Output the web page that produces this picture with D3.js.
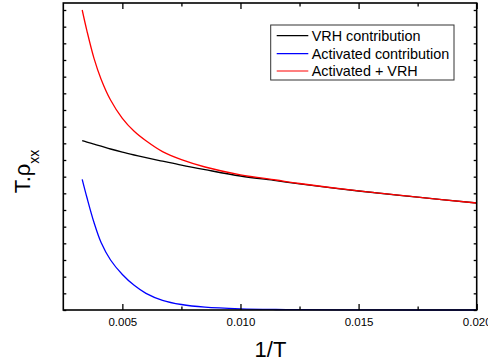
<!DOCTYPE html>
<html>
<head>
<meta charset="utf-8">
<script src="https://cdn.jsdelivr.net/npm/d3@7"></script>
<style>
  html, body { margin: 0; padding: 0; background: #fff; }
  svg { display: block; font-family: "Liberation Sans", Arial, sans-serif; }
</style>
</head>
<body>
<svg id="chart" width="488" height="364"></svg>
<script>
// ---- data ----
const invT = [0.0033, 0.0035, 0.0038, 0.0041, 0.0045, 0.005, 0.0055, 0.006, 0.0067, 0.0075, 0.0085, 0.010, 0.0115, 0.0125, 0.015, 0.0175, 0.020];
const vrh = [10.16, 10.07, 9.95, 9.83, 9.66, 9.47, 9.30, 9.14, 8.93, 8.69, 8.42, 8.04, 7.76, 7.57, 7.14, 6.77, 6.42];
const activated = [7.84, 6.75, 5.25, 4.05, 3.0, 2.13, 1.48, 1.0, 0.58, 0.33, 0.17, 0.07, 0.03, 0.02, 0.005, 0.001, 0];
const total = [18.0, 16.75, 15.1, 13.85, 12.6, 11.5, 10.72, 10.15, 9.5, 9.02, 8.58, 8.11, 7.80, 7.59, 7.145, 6.772, 6.42];
const xMajorTicks = [0.005, 0.010, 0.015, 0.020];
const xMinorTicks = [0.0075, 0.0125, 0.0175];
const xTickLabels = ["0.005", "0.010", "0.015", "0.020"];
const yTicks = d3.range(0, 19, 1);
const seriesNames = ["VRH contribution", "Activated contribution", "Activated + VRH"];
const seriesColors = ["#000000", "#0000ff", "#ff0000"];

// ---- layout ----
const L = 63.3, R = 476.7, T = 3, B = 310;
const svg = d3.select("#chart");
const x = d3.scaleLinear().domain([0.0025, 0.020]).range([L, R]);
const y = d3.scaleLinear().domain([0, 18.42]).range([B, T]);

// curves
const series = [vrh, activated, total];
const line = d3.line().curve(d3.curveCatmullRom.alpha(0.5));
const plot = svg.append("g");
series.forEach((vals, i) => {
  plot.append("path")
    .attr("d", line(invT.map((d, j) => [x(d), y(vals[j])])))
    .attr("fill", "none")
    .attr("stroke", seriesColors[i])
    .attr("stroke-width", 1.3);
});

// axes (inward ticks)
function styleAxis(g) {
  g.select(".domain").remove();
  g.selectAll(".tick line").attr("stroke", "#000").attr("stroke-width", 1.3);
}
svg.append("g").attr("transform", `translate(0,${B})`)
  .call(d3.axisBottom(x).tickValues(xMajorTicks).tickSizeInner(-6).tickSizeOuter(0).tickPadding(8)
    .tickFormat((d, i) => xTickLabels[i]))
  .call(styleAxis)
  .call(g => g.selectAll("text").attr("font-size", "11.5px").attr("fill", "#000")
    .attr("font-family", "Liberation Sans, Arial, sans-serif"));
svg.append("g").attr("transform", `translate(0,${B})`)
  .call(d3.axisBottom(x).tickValues(xMinorTicks).tickSizeInner(-3.5).tickSizeOuter(0).tickFormat(""))
  .call(styleAxis);
svg.append("g").attr("transform", `translate(0,${T})`)
  .call(d3.axisTop(x).tickValues(xMajorTicks).tickSizeInner(-6).tickSizeOuter(0).tickFormat(""))
  .call(styleAxis);
svg.append("g").attr("transform", `translate(0,${T})`)
  .call(d3.axisTop(x).tickValues(xMinorTicks).tickSizeInner(-3.5).tickSizeOuter(0).tickFormat(""))
  .call(styleAxis);
svg.append("g").attr("transform", `translate(${L},0)`)
  .call(d3.axisLeft(y).tickValues(yTicks).tickSizeInner(-3).tickSizeOuter(0).tickFormat(""))
  .call(styleAxis);
svg.append("g").attr("transform", `translate(${R},0)`)
  .call(d3.axisRight(y).tickValues(yTicks).tickSizeInner(-3).tickSizeOuter(0).tickFormat(""))
  .call(styleAxis);

// frame
svg.append("rect").attr("x", L).attr("y", T).attr("width", R - L).attr("height", B - T)
  .attr("fill", "none").attr("stroke", "#000").attr("stroke-width", 1.6);

// axis titles
svg.append("text").attr("x", 270.5).attr("y", 357).attr("text-anchor", "middle")
  .attr("font-size", "22px").attr("fill", "#000").text("1/T");
const yt = svg.append("text").attr("transform", "translate(30,171.5) rotate(-90)")
  .attr("text-anchor", "middle").attr("font-size", "22px").attr("fill", "#000");
yt.append("tspan").text("T.ρ");
yt.append("tspan").attr("font-size", "14px").attr("dy", 9).text("xx");

// legend
const lg = svg.append("g");
lg.append("rect").attr("x", 270.7).attr("y", 25).attr("width", 183.3).attr("height", 55)
  .attr("fill", "#fff").attr("stroke", "#333").attr("stroke-width", 1);
const rowY = [35.7, 53.6, 71];
seriesNames.forEach((name, i) => {
  lg.append("line").attr("x1", 276.7).attr("x2", 308.3).attr("y1", rowY[i]).attr("y2", rowY[i])
    .attr("stroke", seriesColors[i]).attr("stroke-width", 1.2);
  lg.append("text").attr("x", 311.7).attr("y", rowY[i] + 5.2).attr("font-size", "14.4px")
    .attr("fill", "#000").text(name);
});
</script>
</body>
</html>
